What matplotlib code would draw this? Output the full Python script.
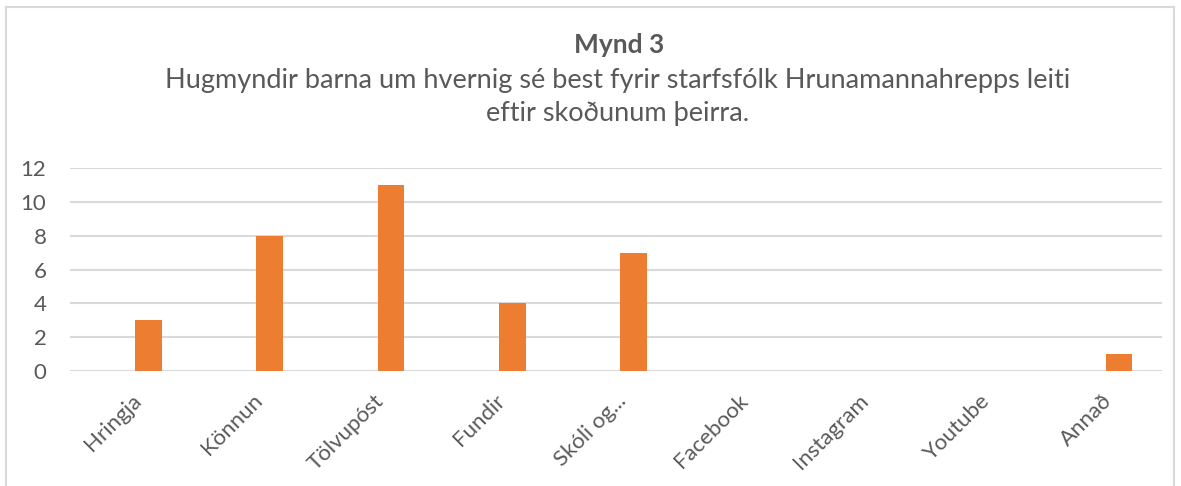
import matplotlib.pyplot as plt
from matplotlib.lines import Line2D
import numpy as np

categories = ['Hringja', 'Könnun', 'Tölvupóst', 'Fundir', 'Skóli og...',
              'Facebook', 'Instagram', 'Youtube', 'Annað']
values = [3, 8, 11, 4, 7, 0, 0, 0, 1]
yticks = [0, 2, 4, 6, 8, 10, 12]

W, H = 1181, 486
text_col = '#595959'
grid_col = '#D9D9D9'
bar_col = '#ED7D31'

plt.rcParams['font.family'] = ['Lato', 'DejaVu Sans']

fig = plt.figure(figsize=(W / 100, H / 100), dpi=100)
# plot area in pixels: x 70..1162, y 168..371
ax = fig.add_axes([70 / W, 1 - 371 / H, (1162 - 70) / W, (371 - 168) / H])

x = np.arange(len(categories))
ax.bar(x + 0.145, values, width=0.22, color=bar_col, zorder=3)

ax.set_xlim(-0.5, len(categories) - 0.5)
ax.set_ylim(0, 12)
ax.set_yticks(yticks)
ax.set_yticklabels([str(v) for v in yticks], fontsize=16, color=text_col)
ax.yaxis.grid(True, color=grid_col, linewidth=1.5, zorder=0)
ax.set_xticks(x)
ax.set_xticklabels(categories, rotation=45, ha='right', rotation_mode='anchor',
                   fontsize=16, color=text_col)
ax.tick_params(axis='both', length=0)
ax.tick_params(axis='y', pad=17)
ax.tick_params(axis='x', pad=14)
for s in ax.spines.values():
    s.set_visible(False)

fig.text(619 / W, 1 - 45 / H, 'Mynd 3', ha='center', va='center',
         fontsize=19, fontweight='bold', color=text_col)
fig.text(618 / W, 1 - 97 / H,
         'Hugmyndir barna um hvernig sé best fyrir starfsfólk Hrunamannahrepps leiti\neftir skoðunum þeirra.',
         ha='center', va='center', fontsize=19.5, color=text_col, linespacing=1.4)

# outer chart border
bx0, by0, bx1 = 6, 7, 1174
fig.add_artist(Line2D([bx0 / W, bx0 / W], [0, 1 - by0 / H], color=grid_col, lw=1.5))
fig.add_artist(Line2D([bx0 / W, bx1 / W], [1 - by0 / H, 1 - by0 / H], color=grid_col, lw=1.5))
fig.add_artist(Line2D([bx1 / W, bx1 / W], [0, 1 - by0 / H], color=grid_col, lw=1.5))

fig.savefig('out.png', dpi=100)
